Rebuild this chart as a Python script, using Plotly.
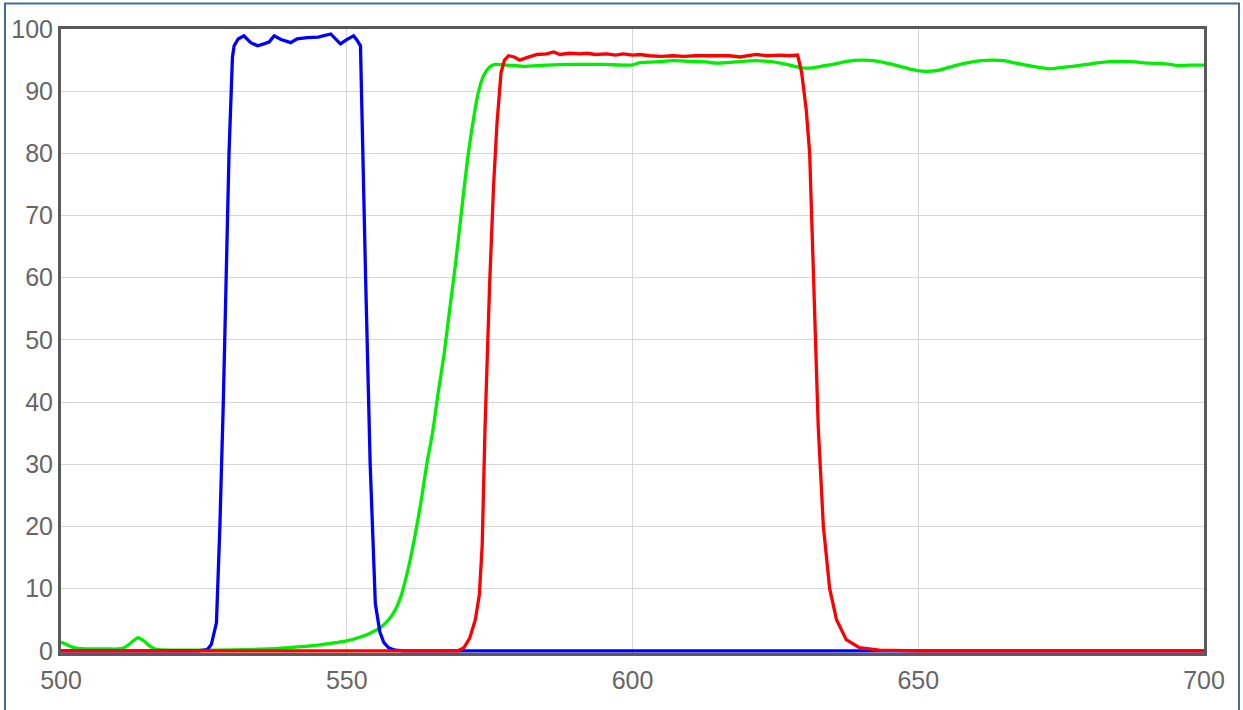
import plotly.graph_objects as go

# ---- data ----
blue_x = [500, 520, 524, 525.6, 526.3, 527.2, 527.8, 528.4, 528.9, 529.4, 530.0, 530.3, 531.0, 532.0,
          533.2, 534.4, 535.5, 536.4, 537.3, 538.5, 540.2, 541.3, 543.1, 545.0, 547.2, 548.2, 548.9,
          550.0, 551.2, 551.8, 552.4, 553.3, 554.1, 555.0, 555.8, 556.5, 557.3, 558.5, 560, 600, 650, 700]
blue_y = [0, 0, 0, 0.2, 1.0, 4.5, 20, 40, 60, 80, 95.5, 97.3, 98.4, 98.9,
          97.8, 97.3, 97.6, 97.9, 98.9, 98.3, 97.8, 98.4, 98.6, 98.7, 99.2, 98.2, 97.6,
          98.3, 98.9, 98.2, 97.3, 60, 30, 7.6, 3.0, 1.3, 0.5, 0.1, 0, 0, 0, 0]

green_x = [500, 501, 502, 503, 505, 508, 510, 511, 512, 513.4, 514.5, 515.5, 516.5, 518, 525, 530,
           535, 540, 545, 548, 550, 552, 554, 556, 557.5, 558.5, 559.5, 560.3, 561, 562, 563, 564,
           565, 566, 567, 568, 569, 570, 571, 572, 573, 574, 575, 576, 578, 580.9, 585, 589.7, 595,
           599.8, 601.3, 604, 607.1, 610, 612.9, 614.7, 618, 621.7, 624.6, 627, 629.3, 631, 633,
           635.1, 637.5, 640.3, 643, 645.5, 648, 649.9, 651.5, 653.7, 656, 658.3, 661, 663, 665,
           667.1, 670, 672.9, 675, 677, 679.5, 681.6, 685.7, 688, 690.4, 693.3, 695.6, 697.5, 700]
green_y = [1.4, 1.0, 0.6, 0.4, 0.3, 0.3, 0.3, 0.5, 1.1, 2.1, 1.6, 0.8, 0.3, 0.15, 0.1, 0.15,
           0.25, 0.5, 0.9, 1.3, 1.6, 2.1, 2.8, 3.8, 5.2, 6.6, 8.8, 11.5, 14.2, 18.8, 24, 30,
           35, 41.5, 47.5, 54.8, 62, 70, 78, 84.5, 89.7, 92.6, 93.9, 94.3, 94.2, 94.0, 94.2, 94.3, 94.3,
           94.2, 94.6, 94.7, 94.9, 94.8, 94.7, 94.5, 94.7, 94.9, 94.7, 94.3, 93.8, 93.7, 94.0,
           94.3, 94.8, 95.0, 94.8, 94.3, 93.7, 93.3, 93.2, 93.4, 94.0, 94.5, 94.9, 95.0, 94.9,
           94.5, 94.0, 93.6, 93.8, 94.0, 94.3, 94.6, 94.8, 94.7, 94.5, 94.4, 94.1, 94.2, 94.2]

red_x = [500, 569.5, 570.5, 571.5, 572.5, 573.2, 573.7, 574.2, 575.0, 575.7, 576.3, 577.0, 577.6,
         578.3, 579.3, 580.3, 581.5, 583.3, 585, 586.2, 587.3, 589, 590.8, 592, 593.5, 595.5, 597,
         598.4, 600, 601.3, 603, 605, 607.1, 609, 611, 612.9, 615, 617, 618.8, 620.5, 621.7, 623.5,
         625.8, 627.5, 628.9, 629.6, 630.4, 631.0, 631.6, 632.5, 633.4, 634.5, 635.7, 637.4, 639.7,
         643.2, 650, 700]
red_y = [0, 0, 0.5, 2, 5, 9, 17, 36, 59, 75, 85, 93, 95,
         95.7, 95.5, 95.0, 95.4, 95.9, 96.0, 96.3, 95.9, 96.1, 96.0, 96.1, 95.9, 96.0, 95.8,
         96.0, 95.8, 95.9, 95.7, 95.6, 95.7, 95.6, 95.7, 95.7, 95.6, 95.7, 95.5, 95.8, 95.9, 95.7,
         95.8, 95.7, 95.8, 93, 87, 80, 62, 36, 20, 10, 5, 1.8, 0.5,
         0.1, 0, 0]

x_ticks = [500, 550, 600, 650, 700]
y_ticks = [0, 10, 20, 30, 40, 50, 60, 70, 80, 90, 100]

fig = go.Figure()
fig.add_trace(go.Scatter(x=green_x, y=green_y, mode="lines",
                         line=dict(color="#00ee00", width=3.3, shape="spline", smoothing=0.6)))
fig.add_trace(go.Scatter(x=blue_x, y=blue_y, mode="lines",
                         line=dict(color="#0000ff", width=3.3)))
fig.add_trace(go.Scatter(x=red_x, y=red_y, mode="lines",
                         line=dict(color="#ff0000", width=3.3)))

W, H = 1243, 710
L, R, T, B = 61, 39, 29, 57
pw, ph = W - L - R, H - T - B

def px(xp):
    return (xp - L) / pw

def py(yp):
    return (H - B - yp) / ph

fig.add_shape(type="rect", xref="paper", yref="paper",
              x0=px(5), x1=px(1239), y0=py(730), y1=py(3.5),
              line=dict(color="#3f6aa3", width=2), fillcolor="rgba(0,0,0,0)", layer="below")

tickfont = dict(family="Liberation Sans, Arial, sans-serif", size=25, color="#666666")
fig.update_layout(
    width=W, height=H,
    margin=dict(l=L, r=R, t=T, b=B),
    paper_bgcolor="white", plot_bgcolor="white",
    showlegend=False,
    xaxis=dict(range=[500, 700], tickvals=x_ticks, ticktext=[str(v) for v in x_ticks],
               showgrid=True, gridcolor="#d6d6d6", gridwidth=1, zeroline=False,
               showline=True, linecolor="#5a5a5a", linewidth=3, mirror=True,
               ticks="", tickfont=tickfont, ticklabelstandoff=3),
    yaxis=dict(range=[-0.35, 100], tickvals=y_ticks, ticktext=[str(v) for v in y_ticks],
               showgrid=True, gridcolor="#d6d6d6", gridwidth=1, zeroline=False,
               showline=True, linecolor="#5a5a5a", linewidth=3, mirror=True,
               ticks="", tickfont=tickfont, ticklabelstandoff=0),
)

fig.write_html("out.html", config={"displayModeBar": False},
               post_script="document.body.style.margin='0';document.body.style.overflow='hidden';")
